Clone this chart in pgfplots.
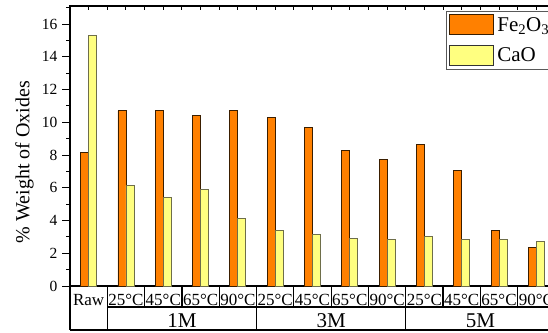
\documentclass[border=0pt]{standalone}
\usepackage{fontspec}
\setmainfont{Liberation Serif}
\usepackage{pgfplots}
\pgfplotsset{compat=1.18}
\definecolor{feor}{HTML}{FF8000}
\definecolor{cayl}{HTML}{FFFF80}
\definecolor{feedge}{HTML}{3A1E00}
\definecolor{caedge}{HTML}{6E6E4A}
\begin{document}
\begin{tikzpicture}[x=1pt,y=1pt]
\path[use as bounding box] (0,0) rectangle (548,332);
\clip (0,0) rectangle (548,332);
\begin{axis}[
  at={(70pt,46pt)}, anchor=south west,
  scale only axis, width=485pt, height=280pt,
  xmin=-0.5, xmax=12.5, ymin=0, ymax=17.1,
  ybar=0pt, bar width=8pt,
  clip=false,
  axis line style={line width=1.4pt},
  /pgf/number format/assume math mode=true,
  xtick={0,...,12},
  xticklabels={Raw,25°C,45°C,65°C,90°C,25°C,45°C,65°C,90°C,25°C,45°C,65°C,90°C},
  xtick pos=upper, xticklabel pos=lower,
  major x tick style={draw=none},
  minor xtick={0,0.5,...,12.5},
  xtick align=inside,
  xticklabel style={anchor=base, yshift=-19pt, inner sep=0pt, font=\fontsize{17}{19}\selectfont},
  ytick={0,2,...,16}, minor ytick={1,3,...,17},
  ytick pos=left, ytick align=outside,
  major tick length=8pt, minor tick length=4pt,
  tick style={line width=1pt, black},
  yticklabel style={font=\fontsize{15.5}{18}\selectfont, xshift=-1pt},
  ylabel={\% Weight of Oxides},
  ylabel style={at={(axis description cs:-0.094,0.443)}, anchor=center, rotate=0, font=\fontsize{20}{22}\selectfont},
  legend style={at={(axis description cs:0.7753,0.982)}, anchor=north west,
    draw=gray!70!black, line width=0.8pt, font=\fontsize{21}{23}\selectfont,
    inner xsep=3pt, inner ysep=3pt, row sep=10pt,
    nodes={inner xsep=3pt, inner ysep=0pt}},
  legend cell align=left,
]
\addplot[fill=feor, draw=feedge, line width=0.9pt,
  legend image code/.code={\draw[fill=feor, draw=feedge, line width=0.9pt] (0pt,-10pt) rectangle (44pt,10pt);}]
  coordinates {(0,8.15) (1,10.7) (2,10.7) (3,10.4) (4,10.7) (5,10.3) (6,9.7) (7,8.3) (8,7.7) (9,8.65) (10,7.05) (11,3.42) (12,2.34)};
\addlegendentry{Fe\textsubscript{2}O\textsubscript{3}}
\addplot[fill=cayl, draw=caedge, line width=0.9pt,
  legend image code/.code={\draw[fill=cayl, draw=black!80, line width=0.9pt] (0pt,-10pt) rectangle (44pt,10pt);}]
  coordinates {(0,15.3) (1,6.15) (2,5.38) (3,5.9) (4,4.1) (5,3.4) (6,3.16) (7,2.89) (8,2.85) (9,3.02) (10,2.83) (11,2.83) (12,2.72)};
\addlegendentry{CaO}
% category table below the axis
\draw[line width=1.2pt] (axis cs:0.5,-1.2824) -- (axis cs:12.5,-1.2824);
\draw[line width=1.2pt] (axis cs:-0.5,-2.687) -- (axis cs:12.5,-2.687);
\pgfplotsinvokeforeach{-0.5,0.5,4.5,8.5,12.5}{\draw[line width=1.2pt] (axis cs:#1,0) -- (axis cs:#1,-2.687);}
\pgfplotsinvokeforeach{1.5,2.5,3.5,5.5,6.5,7.5,9.5,10.5,11.5}{\draw[line width=1.2pt] (axis cs:#1,0) -- (axis cs:#1,-1.2824);}
\node[anchor=base, yshift=-41pt, font=\fontsize{21}{23}\selectfont] at (axis cs:2.5,0) {1M};
\node[anchor=base, yshift=-41pt, font=\fontsize{21}{23}\selectfont] at (axis cs:6.5,0) {3M};
\node[anchor=base, yshift=-41pt, font=\fontsize{21}{23}\selectfont] at (axis cs:10.5,0) {5M};
\end{axis}
\end{tikzpicture}
\end{document}
